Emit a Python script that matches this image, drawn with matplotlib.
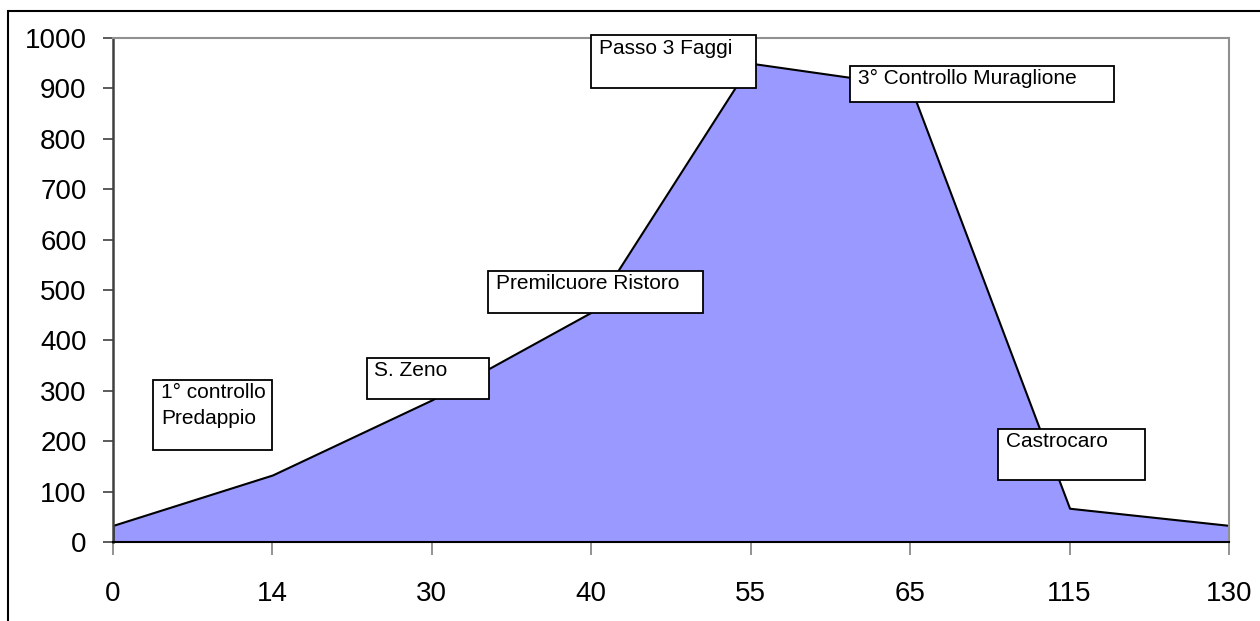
import matplotlib.pyplot as plt
from matplotlib.patches import Rectangle

plt.rcParams['font.family'] = ['Liberation Sans', 'DejaVu Sans']

# data
km = ['0', '14', '30', '40', '55', '65', '115', '130']
quota = [33, 133, 282, 456, 950, 905, 67, 33]

labels = ['1° controllo\nPredappio', 'S. Zeno', 'Premilcuore Ristoro',
          'Passo 3 Faggi', '3° Controllo Muraglione', 'Castrocaro']
# box top-left corners (category index, altitude)
label_pos = [(0.25, 322), (1.59, 365), (2.35, 537),
             (3.0, 1005), (4.62, 945), (5.55, 225)]
label_w = [0.75, 0.77, 1.35, 1.03, 1.66, 0.92]
label_h = [139, 81, 82, 105, 72, 101]

fig = plt.figure(figsize=(12.6, 6.21), dpi=100)
ax = fig.add_axes([0.0897, 0.1272, 0.8857, 0.8116])

x = list(range(len(km)))
ax.fill_between(x, quota, 0, facecolor='#9999FF', edgecolor='black',
                linewidth=1.5, zorder=2)

ax.set_xlim(0, len(km) - 1)
ax.set_ylim(0, 1000)
ax.set_xticks(x)
ax.set_xticklabels(km)
ax.set_yticks(range(0, 1001, 100))

ax.tick_params(axis='x', length=9, width=1.2, color='#808080', pad=19,
               labelsize=20)
ax.tick_params(axis='y', length=7, width=1.2, color='#404040', pad=12,
               labelsize=20)

ax.spines['left'].set_color('#404040')
ax.spines['left'].set_linewidth(1.8)
ax.spines['bottom'].set_color('black')
ax.spines['bottom'].set_linewidth(1.5)
ax.spines['top'].set_color('#909090')
ax.spines['right'].set_color('#909090')
ax.spines['top'].set_linewidth(1.5)
ax.spines['right'].set_linewidth(1.5)

for lab, (bx, by), w, h in zip(labels, label_pos, label_w, label_h):
    ax.add_patch(Rectangle((bx, by - h), w, h, facecolor='white',
                           edgecolor='black', linewidth=1.3, zorder=4,
                           clip_on=False))
    ax.text(bx + 0.05, by - 6, lab, fontsize=15, va='top', ha='left',
            linespacing=1.5, zorder=5)

# outer chart frame
fig.patches.append(Rectangle((8 / 1260, -0.05), 1.1, 1 - 11 / 621 + 0.05,
                             transform=fig.transFigure, fill=False,
                             edgecolor='black', linewidth=1.5))

plt.savefig('out.png')
